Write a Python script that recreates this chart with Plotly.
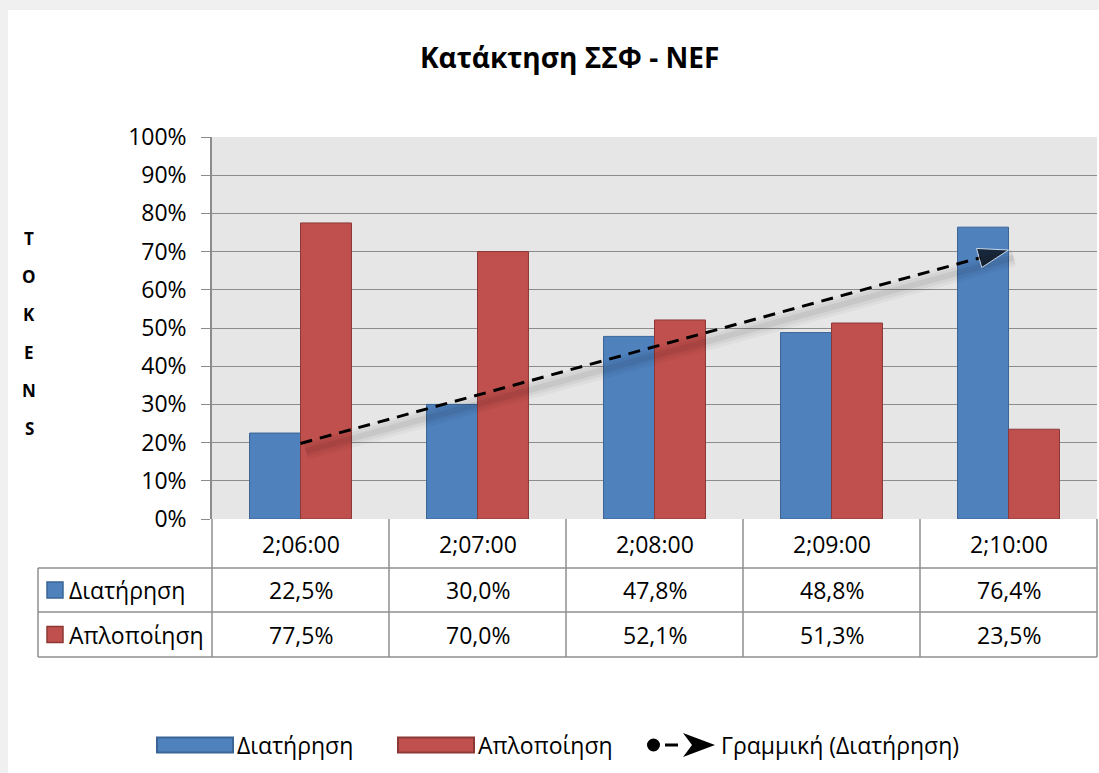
import numpy as np
import plotly.graph_objects as go

# ---------------- data ----------------
categories = ["2;06:00", "2;07:00", "2;08:00", "2;09:00", "2;10:00"]
diatirisi = [22.5, 30.0, 47.8, 48.8, 76.4]
aplopoiisi = [77.5, 70.0, 52.1, 51.3, 23.5]
series_names = ["Διατήρηση", "Απλοποίηση"]
trend_name = "Γραμμική (Διατήρηση)"
title_text = "Κατάκτηση ΣΣΦ - NEF"
y_title_letters = list("TOKENS")
y_ticks = list(range(0, 101, 10))

# ---------------- styles ----------------
W, H = 1099, 773
L, R, T, B = 212, 1097, 137, 519     # plot area in pixels
FONT = "Open Sans"
BLUE, BLUE_LINE = "#4f81bd", "#3a6595"
RED, RED_LINE = "#c0504d", "#8c3836"
GRID = "#8c8c8c"
TABLE_LINE = "#8f8f8f"
TXT = 23


def xp(px):
    return (px - L) / (R - L)


def yp(py):
    return (B - py) / (B - T)


def note(x, y, text, size=TXT, xanchor="center", xref="paper"):
    return dict(x=x, xref=xref, y=y, yref="paper", text=text, showarrow=False,
                xanchor=xanchor, yanchor="middle",
                font=dict(size=size, family=FONT, color="black"))


idx = list(range(len(categories)))

# linear trend of Διατήρηση (Excel linear trendline)
slope, intercept = np.polyfit(np.arange(1, len(diatirisi) + 1), diatirisi, 1)
trend_x = [idx[0], idx[-1]]
trend_y = [slope * 1 + intercept, slope * len(diatirisi) + intercept]

fig = go.Figure()

fig.add_trace(go.Bar(x=idx, y=diatirisi, name=series_names[0],
                     marker=dict(color=BLUE, line=dict(color=BLUE_LINE, width=1)),
                     showlegend=False))
fig.add_trace(go.Bar(x=idx, y=aplopoiisi, name=series_names[1],
                     marker=dict(color=RED, line=dict(color=RED_LINE, width=1)),
                     showlegend=False))

# soft shadow of the trend line
for w, a in [(18, 0.03), (12, 0.045), (6, 0.06)]:
    fig.add_trace(go.Scatter(x=[trend_x[0] + 0.03, trend_x[1] + 0.03],
                             y=[trend_y[0] - 2.0, trend_y[1] - 2.0],
                             mode="lines", line=dict(color=f"rgba(0,0,0,{a})", width=w),
                             hoverinfo="skip", showlegend=False))

fig.add_trace(go.Scatter(x=trend_x, y=trend_y, mode="lines+markers", name=trend_name,
                         line=dict(color="black", width=3, dash="12px,8px"),
                         marker=dict(symbol=["circle", "arrow"], size=[15, 32],
                                     angleref="previous", color="black"),
                         showlegend=False))

shapes = []
annotations = []

# outer gray frame bands (top and left)
shapes.append(dict(type="rect", xref="paper", yref="paper", x0=xp(0), x1=xp(W + 5),
                   y0=yp(0), y1=yp(10), fillcolor="#f0f0f0", line=dict(width=0), layer="above"))
shapes.append(dict(type="rect", xref="paper", yref="paper", x0=xp(0), x1=xp(8),
                   y0=yp(0), y1=yp(H + 5), fillcolor="#f0f0f0", line=dict(width=0), layer="above"))

# ---------------- data table ----------------
row_y = [519, 568, 612, 657]
col_x = [L + i * (R - L) / len(categories) for i in range(len(categories) + 1)]
line_style = dict(color=TABLE_LINE, width=1.5)
for cx in col_x:
    shapes.append(dict(type="line", xref="paper", yref="paper", x0=xp(cx), x1=xp(cx),
                       y0=yp(row_y[0]), y1=yp(row_y[-1]), line=line_style))
shapes.append(dict(type="line", xref="paper", yref="paper", x0=xp(38), x1=xp(38),
                   y0=yp(row_y[1]), y1=yp(row_y[-1]), line=line_style))
for ry in row_y[1:]:
    shapes.append(dict(type="line", xref="paper", yref="paper", x0=xp(38), x1=xp(R),
                       y0=yp(ry), y1=yp(ry), line=line_style))


def fmt(v):
    return f"{v:.1f}".replace(".", ",") + "%"


for i, c in enumerate(categories):
    annotations.append(note(i, yp((row_y[0] + row_y[1]) / 2), c, xref="x"))
    annotations.append(note(i, yp((row_y[1] + row_y[2]) / 2), fmt(diatirisi[i]), xref="x"))
    annotations.append(note(i, yp((row_y[2] + row_y[3]) / 2), fmt(aplopoiisi[i]), xref="x"))

for k, (name, col, lc) in enumerate([(series_names[0], BLUE, BLUE_LINE),
                                     (series_names[1], RED, RED_LINE)]):
    cy = (row_y[k + 1] + row_y[k + 2]) / 2
    shapes.append(dict(type="rect", xref="paper", yref="paper", x0=xp(47), x1=xp(63),
                       y0=yp(cy - 8), y1=yp(cy + 8), fillcolor=col, line=dict(color=lc, width=1.5)))
    annotations.append(note(xp(67), yp(cy), name, xanchor="left"))

# ---------------- y-axis title (stacked letters) ----------------
for j, ch in enumerate(y_title_letters):
    annotations.append(note(xp(29), yp(238 + 38 * j), f"<b>{ch}</b>", size=17))

# ---------------- bottom legend ----------------
LY = 745
for name, col, lc, x0 in [(series_names[0], BLUE, BLUE_LINE, 157),
                          (series_names[1], RED, RED_LINE, 398)]:
    shapes.append(dict(type="rect", xref="paper", yref="paper", x0=xp(x0), x1=xp(x0 + 76),
                       y0=yp(LY - 7.5), y1=yp(LY + 7.5), fillcolor=col, line=dict(color=lc, width=2)))
    annotations.append(note(xp(x0 + 78), yp(LY), name, xanchor="left"))

shapes.append(dict(type="circle", xref="paper", yref="paper", x0=xp(647), x1=xp(660),
                   y0=yp(LY - 6.5), y1=yp(LY + 6.5), fillcolor="black", line=dict(width=0)))
shapes.append(dict(type="line", xref="paper", yref="paper", x0=xp(665), x1=xp(678),
                   y0=yp(LY), y1=yp(LY), line=dict(color="black", width=3)))
arrow_path = (f"M {xp(715)} {yp(LY)} L {xp(683)} {yp(LY - 12)} L {xp(692)} {yp(LY)} "
              f"L {xp(683)} {yp(LY + 12)} Z")
shapes.append(dict(type="path", xref="paper", yref="paper", path=arrow_path,
                   fillcolor="black", line=dict(width=0)))
annotations.append(note(xp(719), yp(LY), trend_name, xanchor="left"))

# ---------------- title ----------------
annotations.append(note(xp(569), yp(57), f"<b>{title_text}</b>", size=28))

fig.update_layout(
    width=W, height=H,
    margin=dict(l=L, r=W - R, t=T, b=H - B, pad=0),
    paper_bgcolor="white",
    plot_bgcolor="#e6e6e6",
    barmode="group", bargap=0.424, bargroupgap=0,
    font=dict(family=FONT, color="black"),
    showlegend=False,
    hovermode=False,
    shapes=shapes,
    annotations=annotations,
    xaxis=dict(range=[-0.5, len(categories) - 0.5], showticklabels=False, showgrid=False,
               zeroline=False, showline=False, ticks="", fixedrange=True),
    yaxis=dict(range=[0, 100], tickvals=y_ticks, ticktext=[f"{v}%" for v in y_ticks],
               showgrid=True, gridcolor=GRID, gridwidth=1.3, zeroline=False,
               showline=True, linecolor=GRID, linewidth=1.5,
               ticks="outside", ticklen=9, tickcolor=GRID, tickwidth=1.3,
               tickfont=dict(size=23, family=FONT, color="black"), ticklabelstandoff=10,
               fixedrange=True),
)

fig.write_html("out.html", config={"displayModeBar": False},
               post_script="document.body.style.margin='0';document.body.style.overflow='hidden';")
